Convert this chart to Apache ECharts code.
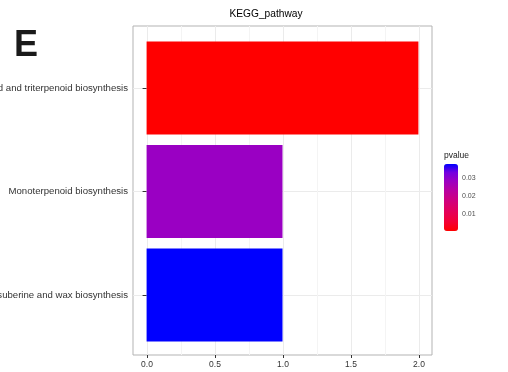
<!DOCTYPE html>
<html>
<head>
<meta charset="utf-8">
<script src="https://cdn.jsdelivr.net/npm/echarts@6/dist/echarts.min.js"></script>
<style>
  html, body { margin: 0; padding: 0; background: #ffffff; }
  #chart { width: 508px; height: 372px; }
</style>
</head>
<body>
<div id="chart"></div>
<script>
// KEGG pathway enrichment: gene counts per pathway, coloured by p-value
const pathways = [
  'Sesquiterpenoid and triterpenoid biosynthesis',
  'Monoterpenoid biosynthesis',
  'Cutin, suberine and wax biosynthesis'
];
const counts = [2, 1, 1];
const pvalues = [0.0003, 0.0283, 0.0376];
const xTicks = [0, 0.5, 1, 1.5, 2];

// red -> blue gradient interpolated in Lab space
const gradient = ['#FF0000', '#F40031', '#E80050', '#DA006C', '#C90089',
                  '#B500A5', '#9A00C3', '#7300E0', '#0000FF'];

const font = 'Liberation Sans';
const pMin = Math.min.apply(null, pvalues);
const pMax = Math.max.apply(null, pvalues);
const xMin = xTicks[0], xMax = xTicks[xTicks.length - 1];
const xPad = (xMax - xMin) * 0.05;

const chart = echarts.init(document.getElementById('chart'), null, { renderer: 'canvas' });

const barData = pathways.map((name, i) => [counts[i], name, pvalues[i]]);

chart.setOption({
  animation: false,
  backgroundColor: '#ffffff',
  textStyle: { fontFamily: font },
  title: [
    { text: 'E', left: 14, top: 28, padding: 0,
      textStyle: { fontSize: 36, fontWeight: 'bold', color: '#1a1a1a', fontFamily: font } },
    { text: 'KEGG_pathway', left: 266, top: 9, textAlign: 'center', padding: 0,
      textStyle: { fontSize: 10.2, fontWeight: 'normal', color: '#000000', fontFamily: font } },
    { text: 'pvalue', left: 444, top: 151, padding: 0,
      textStyle: { fontSize: 8.5, fontWeight: 'normal', color: '#1a1a1a', fontFamily: font } }
  ],
  grid: [
    // panel frame
    { left: 133, top: 26, width: 299, height: 329, show: true,
      borderColor: '#b3b3b3', borderWidth: 1, backgroundColor: 'transparent',
      outerBoundsMode: 'none' },
    // value scale for the x axis (0 .. 2)
    { left: 147, top: 26, width: 272, height: 329, outerBoundsMode: 'none' },
    // bars, one row per pathway
    { left: 133, top: 88, width: 299, height: 207, outerBoundsMode: 'none' },
    // colour bar scale
    { left: 444, top: 164, width: 14, height: 67, outerBoundsMode: 'none' }
  ],
  xAxis: [
    { gridIndex: 0, type: 'value', min: 0, max: 1, show: false },
    { gridIndex: 1, type: 'value', min: xMin, max: xMax, interval: 0.5,
      axisLine: { show: false },
      axisTick: { show: true, length: 3, lineStyle: { color: '#333333' } },
      axisLabel: { fontSize: 8.5, color: '#333333', margin: 5, fontFamily: font,
                   formatter: v => v.toFixed(1) },
      splitLine: { show: true, lineStyle: { color: '#ebebeb', width: 1 } },
      minorTick: { show: false, splitNumber: 2 },
      minorSplitLine: { show: true, lineStyle: { color: '#f4f4f4', width: 1 } }
    },
    { gridIndex: 2, type: 'value', min: xMin - xPad, max: xMax + xPad, show: false },
    { gridIndex: 3, type: 'value', min: 0, max: 1, show: false }
  ],
  yAxis: [
    { gridIndex: 0, type: 'value', show: false },
    { gridIndex: 1, type: 'value', show: false },
    { gridIndex: 2, type: 'category', data: pathways, inverse: true, boundaryGap: false,
      axisLine: { show: false },
      axisTick: { show: true, length: 4, lineStyle: { color: '#333333' } },
      axisLabel: { fontSize: 9.6, color: '#333333', margin: 5, fontFamily: font },
      splitLine: { show: true, lineStyle: { color: '#ebebeb', width: 1 } }
    },
    { gridIndex: 3, type: 'value', min: pMin, max: pMax, splitNumber: 3, position: 'right', z: 10,
      axisLine: { show: false },
      axisTick: { show: true, inside: true, length: 3, lineStyle: { color: '#ffffff', width: 1 } },
      axisLabel: { fontSize: 7, color: '#4d4d4d', margin: 4, fontFamily: font,
                   showMinLabel: false, showMaxLabel: false,
                   formatter: v => v.toFixed(2) },
      splitLine: { show: false }
    }
  ],
  visualMap: [{
    type: 'continuous',
    seriesIndex: 0,
    dimension: 2,
    min: pMin,
    max: pMax,
    left: 444,
    top: 164,
    padding: 0,
    itemWidth: 14,
    itemHeight: 67,
    calculable: false,
    hoverLink: false,
    text: null,
    inRange: { color: gradient }
  }],
  series: [{
    type: 'bar',
    xAxisIndex: 2,
    yAxisIndex: 2,
    data: barData,
    encode: { x: 0, y: 1 },
    barWidth: 93,
    clip: false,
    silent: true
  }]
});
</script>
</body>
</html>
